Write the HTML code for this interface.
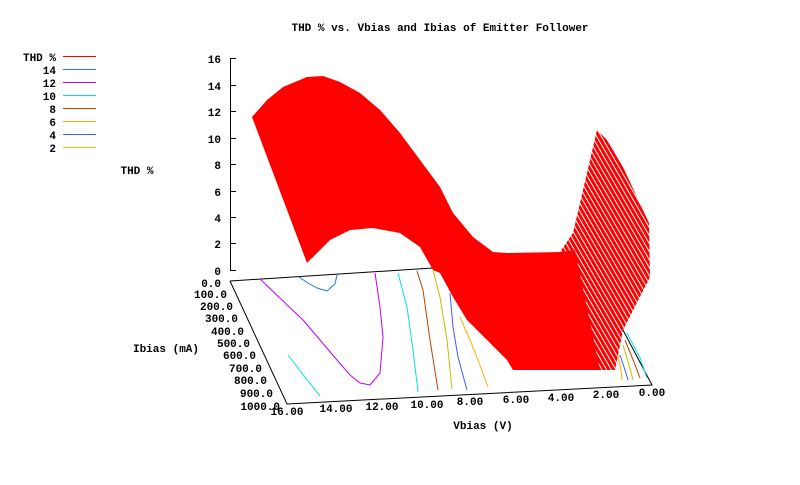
<!DOCTYPE html>
<html><head><meta charset="utf-8"><style>
html,body{margin:0;padding:0;background:#fff}
svg text{font-family:"Liberation Mono",monospace;font-weight:bold;font-size:11px;fill:#000}
</style></head><body>
<svg width="800" height="480" viewBox="0 0 800 480" xmlns="http://www.w3.org/2000/svg">
<defs>
<pattern id="h" width="4" height="4" patternUnits="userSpaceOnUse" patternTransform="rotate(60)">
<rect width="4" height="4" fill="#fff"/><rect width="4" height="3" fill="#f00"/>
</pattern>
</defs>
<text x="440" y="31" text-anchor="middle">THD % vs. Vbias and Ibias of Emitter Follower</text>
<g text-anchor="end">
<text x="56" y="61">THD %</text><text x="56" y="74">14</text><text x="56" y="87">12</text><text x="56" y="100">10</text>
<text x="56" y="113">8</text><text x="56" y="126">6</text><text x="56" y="139">4</text><text x="56" y="152">2</text>
</g>
<g stroke-width="1">
<line x1="63" y1="56.5" x2="96" y2="56.5" stroke="#f00"/>
<line x1="63" y1="69.5" x2="96" y2="69.5" stroke="#1e78e0"/>
<line x1="63" y1="82.5" x2="96" y2="82.5" stroke="#c000ff"/>
<line x1="63" y1="95.5" x2="96" y2="95.5" stroke="#00e0e0"/>
<line x1="63" y1="108.5" x2="96" y2="108.5" stroke="#c04000"/>
<line x1="63" y1="121.5" x2="96" y2="121.5" stroke="#c0c000"/>
<line x1="63" y1="134.5" x2="96" y2="134.5" stroke="#4060f0"/>
<line x1="63" y1="147.5" x2="96" y2="147.5" stroke="#ffb000"/>
</g>
<text x="137" y="174" text-anchor="middle">THD %</text>
<text x="166" y="352" text-anchor="middle">Ibias (mA)</text>
<text x="483" y="429" text-anchor="middle">Vbias (V)</text>
<line x1="230.5" y1="58" x2="230.5" y2="270" stroke="#000"/>
<g stroke="#000">
<line x1="230" y1="58.5" x2="236" y2="58.5"/><line x1="230" y1="85.5" x2="236" y2="85.5"/><line x1="230" y1="111.5" x2="236" y2="111.5"/>
<line x1="230" y1="138.5" x2="236" y2="138.5"/><line x1="230" y1="164.5" x2="236" y2="164.5"/><line x1="230" y1="191.5" x2="236" y2="191.5"/>
<line x1="230" y1="217.5" x2="236" y2="217.5"/><line x1="230" y1="243.5" x2="236" y2="243.5"/><line x1="230" y1="270.5" x2="236" y2="270.5"/>
</g>
<g text-anchor="end">
<text x="221" y="63">16</text><text x="221" y="90">14</text><text x="221" y="116">12</text><text x="221" y="143">10</text>
<text x="221" y="169">8</text><text x="221" y="196">6</text><text x="221" y="222">4</text><text x="221" y="248">2</text><text x="221" y="275">0</text>
</g>
<polyline points="230,281 433,268" fill="none" stroke="#000"/>
<polyline points="230,281 287,404 652,385 623,330" fill="none" stroke="#000"/>
<g text-anchor="end">
<text x="221" y="287">0.0</text><text x="227" y="298">100.0</text><text x="233" y="310">200.0</text><text x="238" y="322">300.0</text>
<text x="244" y="335">400.0</text><text x="250" y="347">500.0</text><text x="256" y="359">600.0</text><text x="262" y="372">700.0</text>
<text x="267" y="384">800.0</text><text x="273" y="397">900.0</text><text x="280" y="410">1000.0</text>
</g>
<g text-anchor="middle">
<text x="287" y="415">16.00</text><text x="336" y="412">14.00</text><text x="382" y="410">12.00</text><text x="427" y="408">10.00</text>
<text x="470" y="405">8.00</text><text x="516" y="403">6.00</text><text x="561" y="401">4.00</text><text x="606" y="398">2.00</text><text x="652" y="396">0.00</text>
</g>
<g fill="none" stroke-width="1">
<polyline stroke="#1e78e0" points="299,277 308,283 317,288 327,291 335,284 337,275"/>
<polyline stroke="#c000ff" points="260,279 282,300 303,320 320,340 337,360 350,375 360,383 370,385 380,373 383,337 380,307 375,273"/>
<polyline stroke="#00e0e0" points="288,355 304,376 320,396"/>
<polyline stroke="#00e0e0" points="398,273 407,307 413,350 418,392"/>
<polyline stroke="#c04000" points="417,271 423,290 430,340 438,390"/>
<polyline stroke="#c0c000" points="433,270 440,297 447,340 452,389"/>
<polyline stroke="#4060f0" points="450,293 453,327 458,357 467,390"/>
<polyline stroke="#ffb000" points="460,317 470,340 478,360 488,387"/>
<polyline stroke="#ffb000" points="618,355 621,370 622,380"/>
<polyline stroke="#4060f0" points="620,355 625,370 628,380"/>
<polyline stroke="#c0c000" points="623,345 629,365 633,380"/>
<polyline stroke="#c04000" points="625,340 634,362 640,378"/>
<polyline stroke="#00e0e0" points="627,333 640,358 647,378"/>
</g>
<polygon fill="#f00" points="252,117 267,100 283,87 307,77 323,76 340,82 360,93 380,110 400,133 420,160 440,187 453,213 473,237 493,252 507,253 560,252 575,250 598,270 615,370 513,370 507,360 487,340 467,320 453,297 440,273 433,270 420,247 400,233 373,228 350,230 330,240 307,263"/>
<polygon fill="url(#h)" points="560,252 573,233 597,130 607,140 623,167 649,223 650,277 623,330 615,370 600,370 575,250"/>
</svg>
</body></html>
